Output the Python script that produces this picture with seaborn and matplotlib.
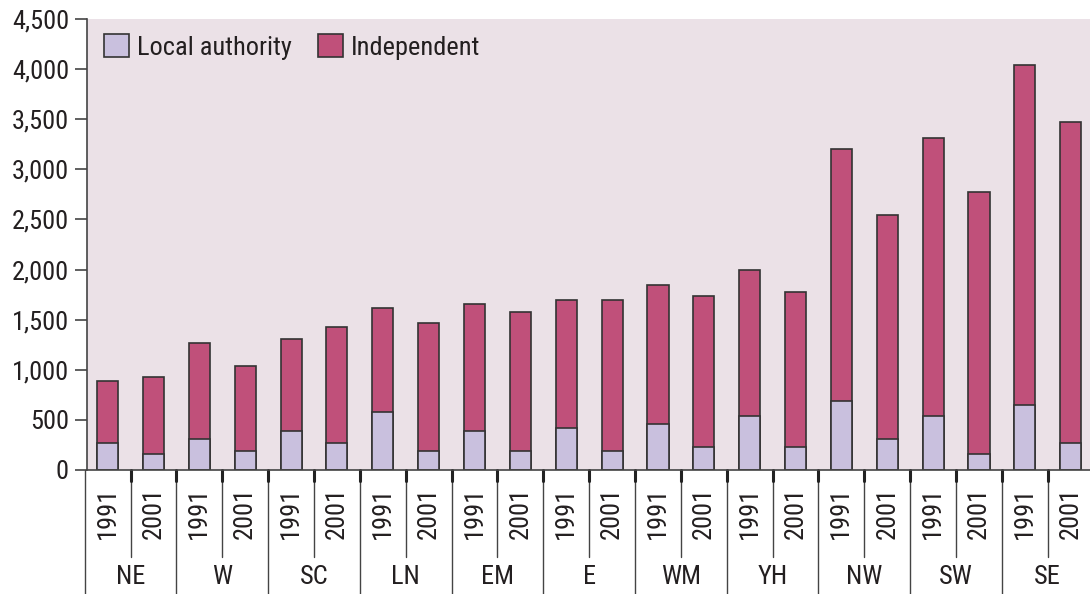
import numpy as np
import pandas as pd
import matplotlib
matplotlib.use('Agg')
import matplotlib.pyplot as plt
import matplotlib.transforms as mtransforms
from matplotlib.patches import Patch
import seaborn as sns

# data
regions = ['NE', 'W', 'SC', 'LN', 'EM', 'E', 'WM', 'YH', 'NW', 'SW', 'SE']
years = ['1991', '2001']
totals = [890, 930, 1270, 1040, 1310, 1425, 1620, 1465, 1660, 1580, 1700, 1695,
          1850, 1735, 2000, 1775, 3200, 2545, 3310, 2775, 4040, 3470]
local_authority = [270, 155, 310, 190, 385, 270, 580, 190, 385, 190, 420, 190,
                   460, 230, 540, 230, 690, 305, 540, 155, 650, 270]

la_col = '#C9C0DE'
ind_col = '#C0507A'
bg_col = '#EBE1E7'
txt_col = '#231F20'
fs = 19

sns.set_style('white')
plt.rcParams['font.family'] = ['Roboto Condensed', 'Archivo Narrow', 'DejaVu Sans']
plt.rcParams['font.size'] = fs
plt.rcParams['text.color'] = txt_col

df = pd.DataFrame({
    'region': np.repeat(regions, 2),
    'year': years * len(regions),
    'total': totals,
    'la': local_authority,
})
df['key'] = df['region'] + '_' + df['year']

fig = plt.figure(figsize=(10.9, 5.94), dpi=100)
ax = fig.add_axes([0.0798, 0.2088, 0.9202, 0.7592])
ax.set_facecolor(bg_col)

sns.barplot(data=df, x='key', y='total', color=ind_col, width=0.46,
            edgecolor='#333333', linewidth=1.2, saturation=1, ax=ax)
sns.barplot(data=df, x='key', y='la', color=la_col, width=0.46,
            edgecolor='#333333', linewidth=1.2, saturation=1, ax=ax)

ax.set_ylim(0, 4500)
ax.set_xlim(-0.45, 21.42)
ax.set_yticks(np.arange(0, 4501, 500))
ax.set_yticklabels([f'{v:,}' for v in range(0, 4501, 500)])
ax.tick_params(axis='y', length=9, width=1.2, color='#444444', labelsize=fs,
               labelcolor=txt_col, pad=4, left=True)
ax.set_xticks(range(len(df)))
ax.set_xticklabels(df['year'], rotation=90, fontsize=fs, color=txt_col)
ax.tick_params(axis='x', length=0, pad=12)
ax.set_xlabel('')
ax.set_ylabel('')

for s in ['top', 'right']:
    ax.spines[s].set_visible(False)
ax.spines['left'].set_color('#444444')
ax.spines['left'].set_linewidth(1.2)
ax.spines['bottom'].set_color('#444444')
ax.spines['bottom'].set_linewidth(1.2)

# category separators below the axis
trans = mtransforms.blended_transform_factory(ax.transData, ax.transAxes)
for i in range(len(regions)):
    left = 2 * i - 0.5
    mid = 2 * i + 0.5
    ax.plot([left, left], [0, -0.28], transform=trans, color='#444444',
            lw=1.0, clip_on=False)
    ax.plot([mid, mid], [0, -0.193], transform=trans, color='#444444',
            lw=1.0, clip_on=False)
    ax.plot([mid, mid], [0, -0.024], transform=trans, color='#222222',
            lw=2.2, clip_on=False)
    if i > 0:
        ax.plot([left, left], [0, -0.024], transform=trans, color='#222222',
                lw=2.2, clip_on=False)
    ax.text(2 * i + 0.5, -0.237, regions[i], transform=trans, ha='center',
            va='center', fontsize=fs, color=txt_col)

handles = [Patch(facecolor=la_col, edgecolor='#333333', lw=1.2),
           Patch(facecolor=ind_col, edgecolor='#333333', lw=1.2)]
ax.legend(handles, ['Local authority', 'Independent'], loc='upper left',
          ncol=2, frameon=False, fontsize=fs, handlelength=0.95,
          handleheight=0.95, handletextpad=0.3, columnspacing=1.0,
          borderpad=0, borderaxespad=0, bbox_to_anchor=(0.017, 0.966))

fig.savefig('out.png', dpi=100)
